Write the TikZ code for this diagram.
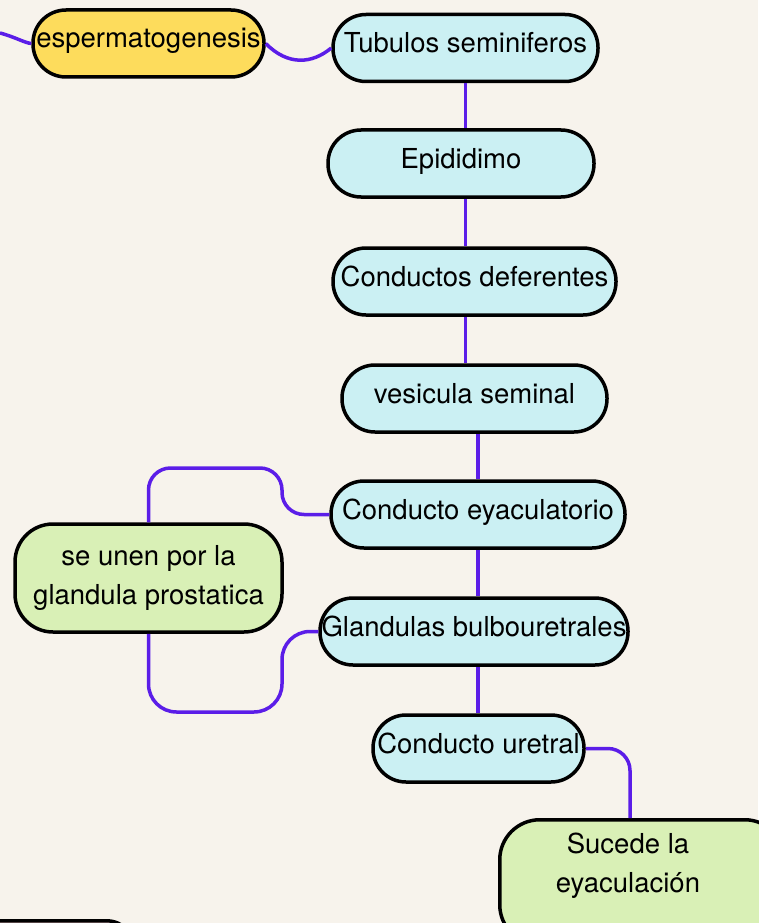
\documentclass[tikz,border=0pt]{standalone}
\usepackage{fontspec}
\setmainfont{TeX Gyre Heros}
\definecolor{bg}{HTML}{F7F3EC}
\definecolor{cy}{HTML}{CBF0F3}
\definecolor{ye}{HTML}{FDDC5C}
\definecolor{gr}{HTML}{D9F0B6}
\definecolor{pk}{HTML}{F5C6CB}
\definecolor{pu}{HTML}{5B1DE8}
\begin{document}
\begin{tikzpicture}[x=1pt,y=-1pt,
  box/.style={draw=black, line width=3.5pt, rounded corners=33pt, inner sep=0pt, align=center,
    font=\fontsize{27.5}{39}\selectfont},
  pill/.style={box, fill=cy, minimum height=67pt, text height=20pt, text depth=11pt},
  link/.style={draw=pu, line width=3.5pt},
  txt/.style={inner sep=0pt, align=center, font=\fontsize{27.5}{39}\selectfont}]
\fill[bg] (0,0) rectangle (758,923);
\useasboundingbox (0,0) rectangle (758,923);
% nodes
\node[box, fill=ye, minimum width=231pt, minimum height=67pt, text height=20pt, text depth=11pt] (esp) at (148.5,43.5) {espermatogenesis};
\node[pill, minimum width=265pt] (tub) at (465.5,48) {Tubulos seminiferos};
\node[pill, minimum width=266pt] (epi) at (461,163.5) {Epididimo};
\node[pill, minimum width=283pt] (def) at (474.5,281.5) {Conductos deferentes};
\node[pill, minimum width=265pt] (ves) at (474.5,398.5) {vesicula seminal};
\node[pill, minimum width=294pt] (eya) at (478,514.5) {Conducto eyaculatorio};
\node[pill, minimum width=308pt] (gla) at (474,631.5) {Glandulas bulbouretrales};
\node[pill, minimum width=211pt] (ure) at (478.5,748.5) {Conducto uretral};
\node[box, fill=gr, minimum width=267pt, minimum height=108pt, rounded corners=38pt] (pro) at (148.5,578) {se unen por la\\glandula prostatica};
\node[box, fill=gr, minimum width=285pt, minimum height=125pt, rounded corners=40pt, anchor=north west] (suc) at (498,818) {};
\node[txt] (sucT) at (628,866) {Sucede la\\eyaculación};
\node[box, fill=pk, minimum width=190pt, minimum height=80pt, rounded corners=30pt, anchor=north east] (bl) at (138,919) {};
% connectors
\coordinate (l0) at (0,33);
\coordinate (uc) at (630,748.5);
\draw[link] (l0) .. controls (15,37) and (25,43) .. (esp.west);
\draw[link] (esp.east) .. controls (288,66) and (312,64) .. (tub.west);
\draw[link] (tub.south) -- (tub.south |- epi.north);
\draw[link] (tub.south |- epi.south) -- (tub.south |- def.north);
\draw[link] (tub.south |- def.south) -- (tub.south |- ves.north);
\draw[link] (eya.north |- ves.south) -- (eya.north);
\draw[link] (eya.south) -- (eya.south |- gla.north);
\draw[link] (eya.south |- gla.south) -- (eya.south |- ure.north);
\draw[link, rounded corners=22pt] (eya.west) -- (282,514.5) -- (282,468) -- (148.5,468) -- (pro.north);
\draw[link, rounded corners=28pt] (gla.west) -- (282,631.5) -- (282,712) -- (148.5,712) -- (pro.south);
\draw[link, rounded corners=22pt] (ure.east) -- (uc) -- (uc |- suc.north);
\end{tikzpicture}
\end{document}
